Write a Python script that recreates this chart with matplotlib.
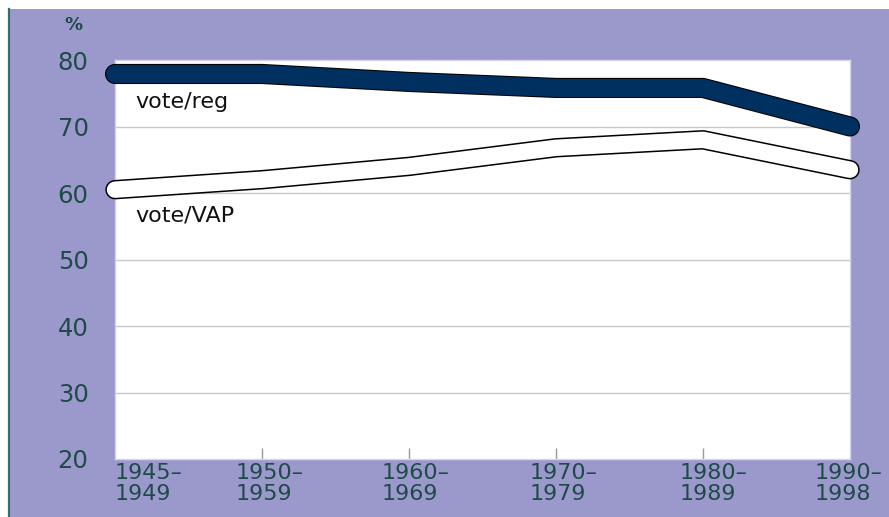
import matplotlib.pyplot as plt
from matplotlib.patches import Rectangle
from matplotlib.lines import Line2D
from matplotlib.transforms import ScaledTranslation

# periods on the x axis
periods = ['1945\u2013\n1949', '1950\u2013\n1959', '1960\u2013\n1969',
           '1970\u2013\n1979', '1980\u2013\n1989', '1990\u2013\n1998']
# turnout, percent
vote_reg = [77.9, 77.9, 76.7, 75.8, 75.8, 70.0]
vote_vap = [60.5, 62.0, 64.0, 66.8, 68.0, 63.5]
yticks = [20, 30, 40, 50, 60, 70, 80]

bg = '#9b99cc'
navy = '#00305f'
txt = '#1e4a48'

plt.rcParams['font.family'] = ['DejaVu Sans']
fig = plt.figure(figsize=(8.89, 5.17), dpi=100, facecolor='white')

# lavender panel with a teal rule on its left side
fig.add_artist(Rectangle((9 / 889, 0), 1, 1 - 9 / 517, transform=fig.transFigure,
                         facecolor=bg, edgecolor='none', zorder=-10))
fig.add_artist(Line2D([9 / 889, 9 / 889], [0, 1 - 9 / 517], transform=fig.transFigure,
                      color='#2f7070', lw=1.6, zorder=-9))

ax = fig.add_axes([115 / 889, 1 - 459 / 517, 735 / 889, 399 / 517])
ax.set_facecolor('white')
x = list(range(len(periods)))
ax.set_xlim(0, len(periods) - 1)
ax.set_ylim(20, 80)

for y in yticks[1:-1]:
    ax.axhline(y, color='#c8c8c8', lw=1, zorder=1)

# thick outlined lines
ax.plot(x, vote_reg, color='black', lw=14.5, solid_capstyle='round',
        solid_joinstyle='round', clip_on=False, zorder=3)
ax.plot(x, vote_reg, color=navy, lw=13, solid_capstyle='round',
        solid_joinstyle='round', clip_on=False, zorder=4)
ax.plot(x, vote_vap, color='black', lw=14, solid_capstyle='round',
        solid_joinstyle='round', clip_on=False, zorder=3)
ax.plot(x, vote_vap, color='white', lw=11.8, solid_capstyle='round',
        solid_joinstyle='round', clip_on=False, zorder=4)

ax.text(0.14, 73.7, 'vote/reg', fontsize=16, color='#111111', va='center', zorder=5)
ax.text(0.14, 56.6, 'vote/VAP', fontsize=16, color='#111111', va='center', zorder=5)

ax.set_yticks(yticks)
ax.set_yticklabels([str(v) for v in yticks], fontsize=17.5, color=txt)
ax.tick_params(axis='y', length=0, pad=19)

ax.set_xticks(x)
ax.set_xticklabels(periods, fontsize=16, color=txt, linespacing=1.05)
ax.tick_params(axis='x', direction='in', length=8, width=1, color='#999999', pad=3)
ticks = ax.xaxis.get_major_ticks()
ticks[0].tick1line.set_visible(False)
ticks[-1].tick1line.set_visible(False)
dx = [0, -26, -27, -26, -23, 32]
for i, lab in enumerate(ax.get_xticklabels()):
    if i == len(periods) - 1:
        lab.set_ha('right')
    else:
        lab.set_ha('left')
    lab.set_multialignment('left')
    lab.set_transform(lab.get_transform() + ScaledTranslation(dx[i] / 100, 0, fig.dpi_scale_trans))

for s in ax.spines.values():
    s.set_color('#d4d4f0')
    s.set_linewidth(1)

fig.text(64 / 889, 1 - 25 / 517, '%', fontsize=13, color=txt, va='center', fontweight='bold')

fig.savefig('out.png', dpi=100, facecolor=fig.get_facecolor())
